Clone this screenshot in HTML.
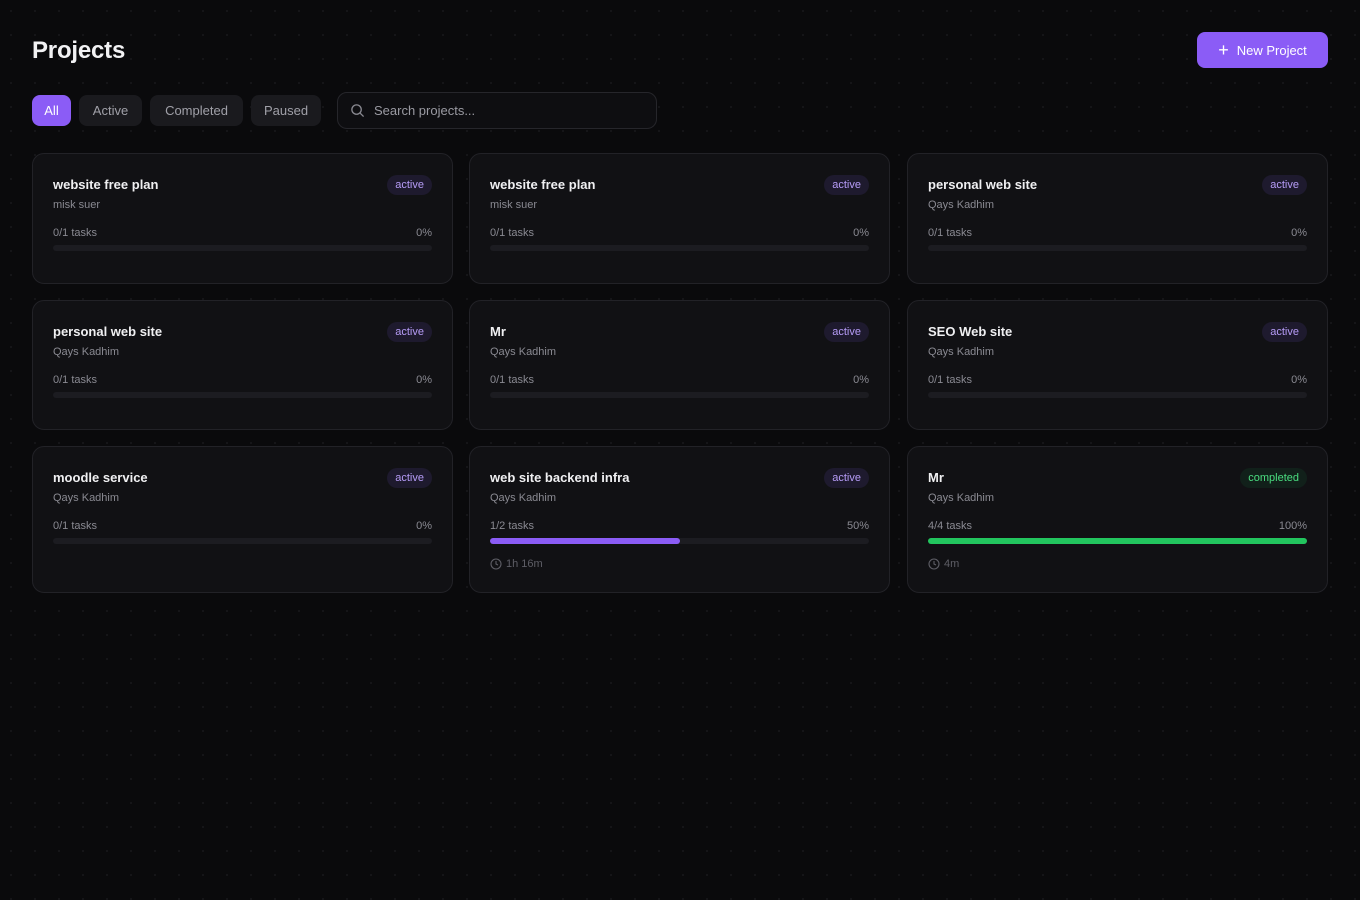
<!DOCTYPE html>
<html><head><meta charset="utf-8"><style>
*{box-sizing:border-box;margin:0;padding:0}
body{width:1360px;height:900px;background:#0a0a0c;background-image:radial-gradient(circle,#161619 1px,transparent 1.2px);background-size:24px 24px;background-position:-1px -1px;font-family:"Liberation Sans",sans-serif;color:#ededf0;position:relative;overflow:hidden}
.abs{position:absolute}
h1{position:absolute;left:32px;top:37px;font-size:24px;font-weight:700;letter-spacing:-0.2px;color:#f2f2f4}
.np{left:1197px;top:32px;width:131px;height:36px;background:#8b5cf6;border-radius:8px;color:#fff;font-size:13px;display:flex;align-items:center;justify-content:center;gap:8px}
.chip{top:95px;height:31px;border-radius:8px;background:#1a1a1e;color:#a0a0a8;font-size:13px;display:flex;align-items:center;justify-content:center}
.search{left:337px;top:92px;width:320px;height:37px;border:1px solid #26262b;border-radius:10px;background:#0e0e11;color:#9a9aa2;font-size:13px;display:flex;align-items:center;padding-left:12px;gap:9px}
.card{position:absolute;width:421px;background:#111114;border:1px solid #222227;border-radius:12px}
.t{position:absolute;left:20px;top:23px;font-size:13px;font-weight:700;color:#f0f0f2}
.s{position:absolute;left:20px;top:45px;font-size:11px;color:#8a8a92}
.b{position:absolute;right:20px;top:21px;height:20px;padding:0 8px;border-radius:10px;background:#1e1a2e;color:#b69cf7;font-size:11px;line-height:20px}
.b.g{background:#11201a;color:#4ade80}
.tk{position:absolute;left:20px;top:73px;font-size:11px;color:#8a8a92}
.pc{position:absolute;right:20px;top:73px;font-size:11px;color:#8a8a92}
.bar{position:absolute;left:20px;right:20px;top:91px;height:6px;border-radius:3px;background:#1c1c21}
.fill{height:6px;border-radius:3px}
.tm{position:absolute;left:20px;top:111px;font-size:11px;color:#5e5e66;display:flex;align-items:center;gap:4px}
</style></head><body>
<h1>Projects</h1>
<div class="abs np"><span style="font-size:18px;font-weight:300">+</span>New Project</div>
<div class="abs chip" style="left:32px;width:39px;background:#8b5cf6;color:#fff">All</div>
<div class="abs chip" style="left:79px;width:63px">Active</div>
<div class="abs chip" style="left:150px;width:93px">Completed</div>
<div class="abs chip" style="left:251px;width:70px">Paused</div>
<div class="abs search"><svg width="15" height="15" viewBox="0 0 16 16"><circle cx="7" cy="7" r="5" fill="none" stroke="#8a8a92" stroke-width="1.4"/><line x1="11" y1="11" x2="14.5" y2="14.5" stroke="#8a8a92" stroke-width="1.4"/></svg>Search projects...</div>

<div class="card" style="left:32px;top:153px;height:131px"><div class="t">website free plan</div><div class="b">active</div><div class="s">misk suer</div><div class="tk">0/1 tasks</div><div class="pc">0%</div><div class="bar"></div></div>
<div class="card" style="left:469px;top:153px;height:131px"><div class="t">website free plan</div><div class="b">active</div><div class="s">misk suer</div><div class="tk">0/1 tasks</div><div class="pc">0%</div><div class="bar"></div></div>
<div class="card" style="left:907px;top:153px;height:131px"><div class="t">personal web site</div><div class="b">active</div><div class="s">Qays Kadhim</div><div class="tk">0/1 tasks</div><div class="pc">0%</div><div class="bar"></div></div>

<div class="card" style="left:32px;top:300px;height:130px"><div class="t">personal web site</div><div class="b">active</div><div class="s">Qays Kadhim</div><div class="tk">0/1 tasks</div><div class="pc">0%</div><div class="bar"></div></div>
<div class="card" style="left:469px;top:300px;height:130px"><div class="t">Mr</div><div class="b">active</div><div class="s">Qays Kadhim</div><div class="tk">0/1 tasks</div><div class="pc">0%</div><div class="bar"></div></div>
<div class="card" style="left:907px;top:300px;height:130px"><div class="t">SEO Web site</div><div class="b">active</div><div class="s">Qays Kadhim</div><div class="tk">0/1 tasks</div><div class="pc">0%</div><div class="bar"></div></div>

<div class="card" style="left:32px;top:446px;height:147px"><div class="t">moodle service</div><div class="b">active</div><div class="s">Qays Kadhim</div><div class="tk">0/1 tasks</div><div class="pc">0%</div><div class="bar"></div></div>
<div class="card" style="left:469px;top:446px;height:147px"><div class="t">web site backend infra</div><div class="b">active</div><div class="s">Qays Kadhim</div><div class="tk">1/2 tasks</div><div class="pc">50%</div><div class="bar"><div class="fill" style="width:50%;background:#8b5cf6"></div></div><div class="tm"><svg width="12" height="12" viewBox="0 0 12 12"><circle cx="6" cy="6" r="5" fill="none" stroke="#5e5e66" stroke-width="1.1"/><path d="M6 3v3l2 1" fill="none" stroke="#5e5e66" stroke-width="1.1"/></svg>1h 16m</div></div>
<div class="card" style="left:907px;top:446px;height:147px"><div class="t">Mr</div><div class="b g">completed</div><div class="s">Qays Kadhim</div><div class="tk">4/4 tasks</div><div class="pc">100%</div><div class="bar"><div class="fill" style="width:100%;background:#22c55e"></div></div><div class="tm"><svg width="12" height="12" viewBox="0 0 12 12"><circle cx="6" cy="6" r="5" fill="none" stroke="#5e5e66" stroke-width="1.1"/><path d="M6 3v3l2 1" fill="none" stroke="#5e5e66" stroke-width="1.1"/></svg>4m</div></div>
</body></html>
